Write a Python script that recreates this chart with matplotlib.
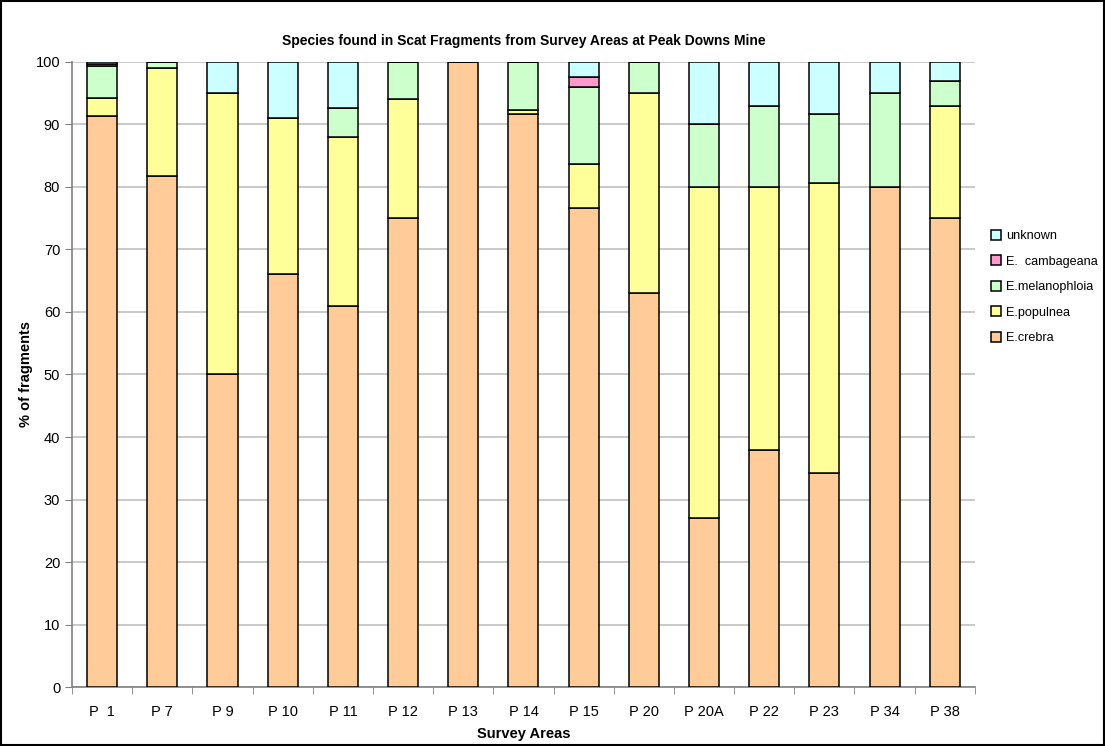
import numpy as np
import matplotlib
matplotlib.use("Agg")
import matplotlib.pyplot as plt
from matplotlib.patches import Rectangle

plt.rcParams['font.family'] = ['Liberation Sans', 'DejaVu Sans']

areas = ['P  1', 'P 7', 'P 9', 'P 10', 'P 11', 'P 12', 'P 13', 'P 14',
         'P 15', 'P 20', 'P 20A', 'P 22', 'P 23', 'P 34', 'P 38']

crebra       = [91.4, 81.7, 50.0, 66.0, 61.0, 75.0, 100.0, 91.7, 76.7, 63.0, 27.0, 38.0, 34.2, 80.0, 75.0]
populnea     = [2.9, 17.3, 45.0, 25.0, 27.0, 19.0, 0.0, 0.6, 7.0, 32.0, 53.0, 42.0, 46.5, 0.0, 18.0]
melanophloia = [5.0, 1.0, 0.0, 0.0, 4.7, 6.0, 0.0, 7.7, 12.3, 5.0, 10.0, 13.0, 11.0, 15.0, 4.0]
cambageana   = [0.3, 0.0, 0.0, 0.0, 0.0, 0.0, 0.0, 0.0, 1.6, 0.0, 0.0, 0.0, 0.0, 0.0, 0.0]
unknown      = [0.4, 0.0, 5.0, 9.0, 7.3, 0.0, 0.0, 0.0, 2.4, 0.0, 10.0, 7.0, 8.3, 5.0, 3.0]

series = [
    ('E.crebra', crebra, '#FFCC99'),
    ('E.populnea', populnea, '#FFFF99'),
    ('E.melanophloia', melanophloia, '#CCFFCC'),
    ('E.  cambageana', cambageana, '#FF99CC'),
    ('unknown', unknown, '#CCFFFF'),
]

fig = plt.figure(figsize=(11.05, 7.46), dpi=100)
ax = fig.add_axes([0.0652, 0.079, 0.8170, 0.838])

x = np.arange(len(areas))
bottom = np.zeros(len(areas))
handles = []
for name, vals, col in series:
    vals = np.array(vals)
    b = ax.bar(x, vals, 0.5, bottom=bottom, color=col, edgecolor='black',
               linewidth=1.1, label=name, zorder=3)
    handles.append(b)
    bottom += vals

ax.set_xlim(-0.5, len(areas) - 0.5)
ax.set_ylim(0, 100)
ax.set_yticks(np.arange(0, 101, 10))
ax.yaxis.grid(True, color='#C0C0C0', linewidth=1.2, zorder=0)
ax.set_axisbelow(True)

ax.set_xticks(x)
ax.set_xticklabels(areas, fontsize=10.5)
ax.set_xticks(np.arange(-0.5, len(areas), 1), minor=True)
ax.tick_params(axis='x', which='major', length=0, pad=13)
ax.tick_params(axis='x', which='minor', length=5, color='#808080', direction='out')
ax.tick_params(axis='y', labelsize=10.5, length=5, color='#808080', direction='out')

for s in ['top', 'right']:
    ax.spines[s].set_visible(False)
for s in ['left', 'bottom']:
    ax.spines[s].set_color('#808080')
    ax.spines[s].set_linewidth(1.2)

ax.set_title('Species found in Scat Fragments from Survey Areas at Peak Downs Mine',
             fontsize=10, fontweight='bold', pad=12)
ax.set_xlabel('Survey Areas', fontsize=10.5, fontweight='bold', labelpad=6)
ax.set_ylabel('% of fragments', fontsize=10.5, fontweight='bold', labelpad=2)

leg = ax.legend(handles[::-1], [s[0] for s in series][::-1], loc='center left',
                bbox_to_anchor=(1.005, 0.64), frameon=False, fontsize=9.1,
                handlelength=0.8, handleheight=0.8, labelspacing=1.05,
                handletextpad=0.4)

fig.patches.append(Rectangle((0.001, 0.001), 0.998, 0.998, transform=fig.transFigure,
                             fill=False, edgecolor='black', linewidth=1.5))

fig.savefig('out.png', dpi=100)
